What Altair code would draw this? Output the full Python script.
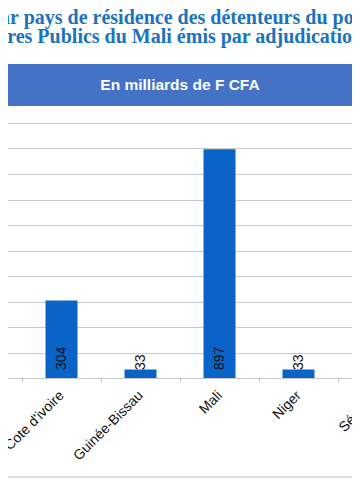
import altair as alt
import pandas as pd

# ---- data ----
# (the first category lies outside the cropped view; only its slot is kept)
pays = ["Burkina Faso", "Cote d'ivoire", "Guinée-Bissau", "Mali", "Niger", "Sénégal"]
pays_barres = ["Cote d'ivoire", "Guinée-Bissau", "Mali", "Niger"]
valeurs = [304, 33, 897, 33]
graduations = list(range(0, 1001, 100))
titre_l1 = "par pays de résidence des détenteurs du portefeuille"
titre_l2 = "Titres Publics du Mali émis par adjudication"
sous_titre = "En milliards de F CFA"

df = pd.DataFrame({"pays": pays_barres, "valeur": valeurs})
df["base"] = 0

x_scale = alt.Scale(domain=pays, range=[-65, 409], paddingInner=0, paddingOuter=0)
x_axis = alt.Axis(
    title=None, labelAngle=-45, labelAlign="right", labelBaseline="middle",
    labelFont="Liberation Sans", labelFontSize=14,
    labelColor="#111111", labelPadding=11, tickBand="extent", ticks=True,
    tickSize=4, tickColor="#c4c4c4", domain=False, grid=False,
)
y_scale = alt.Scale(domain=[0, 1000], nice=False)
y_axis = alt.Axis(title=None, labels=False, ticks=False, domain=False,
                  values=graduations, grid=True, gridColor="#c8c8c8", gridWidth=1)

bars = alt.Chart(df).mark_bar(width=32, color="#0a64c8").encode(
    x=alt.X("pays:N", sort=pays, scale=x_scale, axis=x_axis),
    y=alt.Y("valeur:Q", scale=y_scale, axis=y_axis),
)

labels = alt.Chart(df).mark_text(
    angle=270, align="left", baseline="middle", dx=8,
    font="Liberation Sans", fontSize=14, color="#111111",
).encode(
    x=alt.X("pays:N", sort=pays, scale=x_scale, axis=x_axis),
    y=alt.Y("base:Q", scale=y_scale, axis=y_axis),
    text=alt.Text("valeur:Q"),
)

bandeau = alt.Chart(pd.DataFrame({"t": [sous_titre]})).mark_rect(color="#4472C4").encode(
    x=alt.value(-10), x2=alt.value(400), y=alt.value(-59), y2=alt.value(-17)
)
bandeau_txt = alt.Chart(pd.DataFrame({"t": [sous_titre]})).mark_text(
    font="Liberation Sans", fontSize=15.5, fontWeight="bold", color="white",
    align="center", baseline="middle",
).encode(x=alt.value(172), y=alt.value(-38), text="t:N")

t1 = alt.Chart(pd.DataFrame({"t": [titre_l1]})).mark_text(
    font="Liberation Serif", fontSize=20, fontWeight="bold", color="#1a73bd",
    align="left", baseline="alphabetic",
).encode(x=alt.value(-19), y=alt.value(-99), text="t:N")
t2 = alt.Chart(pd.DataFrame({"t": [titre_l2]})).mark_text(
    font="Liberation Serif", fontSize=20, fontWeight="bold", color="#1a73bd",
    align="left", baseline="alphabetic",
).encode(x=alt.value(-26), y=alt.value(-80), text="t:N")

bordure = alt.Chart(pd.DataFrame({"t": [0]})).mark_rule(color="#d3d9e0", strokeWidth=1.5).encode(
    x=alt.value(-10), x2=alt.value(400), y=alt.value(354)
)

chart = alt.layer(bars, labels, bandeau, bandeau_txt, t1, t2, bordure).properties(
    width=344, height=255,
    padding={"top": 115, "left": 0, "right": 0, "bottom": 118},
    autosize=alt.AutoSizeParams(type="none"),
    background="white",
).configure_view(strokeWidth=0)

chart.save("out.html", embed_options={"renderer": "svg", "actions": False})
